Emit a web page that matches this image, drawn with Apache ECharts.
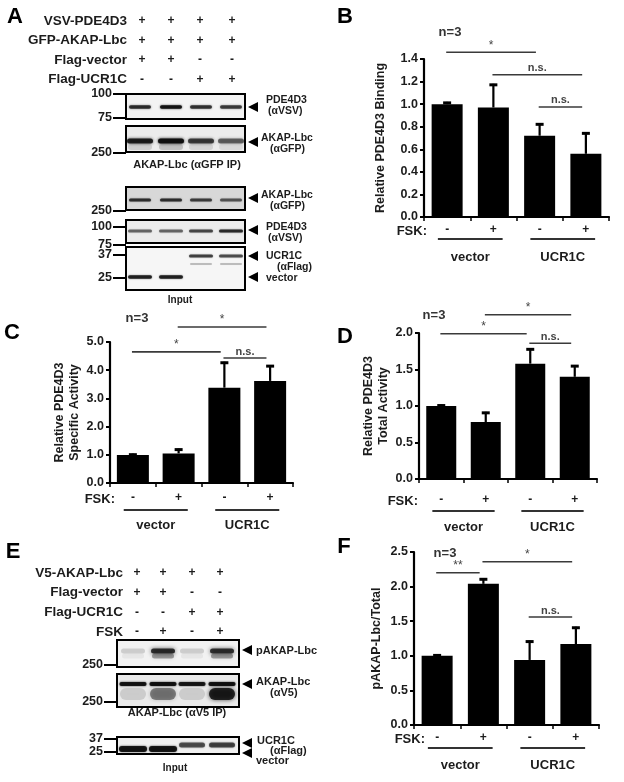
<!DOCTYPE html>
<html>
<head>
<meta charset="utf-8">
<script src="https://cdn.jsdelivr.net/npm/echarts@6/dist/echarts.min.js"></script>
<style>
  html, body { margin: 0; padding: 0; background: #fff; }
  #chart { width: 624px; height: 782px; }
</style>
</head>
<body>
<div id="chart"></div>
<script>
// ---- data ----
const fskLabels = ['-', '+', '-', '+'];
const groupLabels = ['vector', 'UCR1C'];

// B: relative PDE4D3 binding
const bindingMean = [1.00, 0.97, 0.72, 0.56];
const bindingErr = [0.02, 0.21, 0.11, 0.19];
// C: relative PDE4D3 specific activity
const specificMean = [0.99, 1.05, 3.38, 3.62];
const specificErr = [0.05, 0.17, 0.92, 0.56];
// D: relative PDE4D3 total activity
const totalMean = [1.00, 0.78, 1.58, 1.40];
const totalErr = [0.02, 0.14, 0.21, 0.16];
// F: pAKAP-Lbc / total
const phosphoMean = [1.00, 2.04, 0.94, 1.17];
const phosphoErr = [0.02, 0.08, 0.28, 0.25];

// significance brackets: [from category, to category, level, label]
const bindingSig = [[0, 2, 1.46, '*'], [1, 3, 1.26, 'n.s.'], [2, 3, 0.975, 'n.s.']];
const specificSig = [[1, 3, 5.53, '*'], [0, 2, 4.65, '*'], [2, 3, 4.43, 'n.s.']];
const totalSig = [[1, 3, 2.25, '*'], [0, 2, 1.99, '*'], [2, 3, 1.86, 'n.s.']];
const phosphoSig = [[0, 1, 2.20, '**'], [1, 3, 2.36, '*'], [2, 3, 1.56, 'n.s.']];

// ---- layout ----
const font = '"Liberation Sans", Arial, sans-serif';
const ink = '#1c1c1c';

const panels = [
  { left: 424, top: 59, width: 185, height: 158, max: 1.4, interval: 0.2, name: 'Relative PDE4D3 Binding', nameGap: 36,
    mean: bindingMean, err: bindingErr, sig: bindingSig, fskMargin: 7, lineGap: 22, groupMargin: 34, fskX: 427, n: [450, 32], barWidth: 31 },
  { left: 110, top: 342, width: 183, height: 141, max: 5, interval: 1, name: 'Relative PDE4D3\nSpecific Activity', nameGap: 28,
    mean: specificMean, err: specificErr, sig: specificSig, fskMargin: 9, lineGap: 27, groupMargin: 36, fskX: 115, n: [137, 318], barWidth: 32 },
  { left: 419, top: 333, width: 178, height: 146, max: 2, interval: 0.5, name: 'Relative PDE4D3\nTotal Activity', nameGap: 28,
    mean: totalMean, err: totalErr, sig: totalSig, fskMargin: 15, lineGap: 32, groupMargin: 42, fskX: 418, n: [434, 315], barWidth: 30 },
  { left: 414, top: 552, width: 185, height: 173, max: 2.5, interval: 0.5, name: 'pAKAP-Lbc/Total', nameGap: 30,
    mean: phosphoMean, err: phosphoErr, sig: phosphoSig, fskMargin: 7, lineGap: 23, groupMargin: 34, fskX: 425, n: [445, 553], barWidth: 31 }
];

function renderErr(params, api) {
  const x = api.value(0), m = api.value(1), e = api.value(2);
  const base = api.coord([x, m]);
  const top = api.coord([x, m + e]);
  return {
    type: 'group',
    children: [
      { type: 'line', shape: { x1: base[0], y1: base[1], x2: top[0], y2: top[1] }, style: { stroke: '#000', lineWidth: 2.2 } },
      { type: 'line', shape: { x1: top[0] - 4, y1: top[1] + 1, x2: top[0] + 4, y2: top[1] + 1 }, style: { stroke: '#000', lineWidth: 3 } }
    ]
  };
}

const chart = echarts.init(document.getElementById('chart'));
const option = { animation: false, textStyle: { fontFamily: font }, grid: [], xAxis: [], yAxis: [], series: [] };

panels.forEach((p, i) => {
  option.grid.push({ left: p.left, top: p.top, width: p.width, height: p.height });
  option.xAxis.push({
    type: 'category', gridIndex: i, data: fskLabels,
    axisLine: { lineStyle: { color: '#000', width: 2.2 } },
    axisTick: { show: true, length: 4, lineStyle: { color: '#000', width: 1.5 } },
    axisLabel: { margin: p.fskMargin, fontSize: 12, fontWeight: 'bold', color: ink, fontFamily: font }
  });
  option.xAxis.push({
    type: 'category', gridIndex: i, position: 'bottom', data: groupLabels,
    axisLine: { show: false }, axisTick: { show: false },
    axisLabel: { margin: p.groupMargin, fontSize: 13, fontWeight: 'bold', color: ink, fontFamily: font }
  });
  option.yAxis.push({
    type: 'value', gridIndex: i, min: 0, max: p.max, interval: p.interval,
    name: p.name, nameLocation: 'middle', nameGap: p.nameGap,
    nameTextStyle: { fontSize: 12.5, fontWeight: 'bold', color: ink, fontFamily: font, lineHeight: 15 },
    axisLine: { show: true, lineStyle: { color: '#000', width: 2.2 } },
    axisTick: { show: true, length: 4, lineStyle: { color: '#000', width: 2 } },
    splitLine: { show: false },
    axisLabel: { formatter: v => v.toFixed(1), margin: 6, fontSize: 12.5, fontWeight: 'bold', color: ink, fontFamily: font }
  });
  option.series.push({
    type: 'bar', xAxisIndex: 2 * i, yAxisIndex: i, data: p.mean, barWidth: p.barWidth,
    itemStyle: { color: '#000' }, z: 2
  });
  option.series.push({
    type: 'custom', xAxisIndex: 2 * i, yAxisIndex: i,
    data: p.mean.map((m, k) => [k, m, p.err[k]]),
    encode: { x: 0, y: 1 }, renderItem: renderErr, z: 3
  });
});

chart.setOption(option);

// ---- annotations & blots (graphic layer) ----
const g = [];
function txt(x, y, s, size, opt) {
  g.push({ type: 'text', x: x, y: y, z: 20,
    style: Object.assign({ text: s, fill: ink, font: 'bold ' + size + 'px ' + font, align: 'left', verticalAlign: 'middle' }, opt || {}) });
}
function seg(x1, y1, x2, y2, w, c) {
  g.push({ type: 'line', z: 20, shape: { x1: x1, y1: y1, x2: x2, y2: y2 }, style: { stroke: c || '#000', lineWidth: w } });
}

panels.forEach((p, i) => {
  const at = (cat, val) => {
    const a = chart.convertToPixel({ seriesIndex: 2 * i }, [0, val]);
    const b = chart.convertToPixel({ seriesIndex: 2 * i }, [1, val]);
    return [a[0] + cat * (b[0] - a[0]), a[1]];
  };
  p.sig.forEach(([from, to, level, label]) => {
    const s = at(from - 0.02, level), e = at(to - 0.08, level);
    seg(s[0], s[1], e[0], e[1], 1.6, '#3a3a3a');
    txt((s[0] + e[0]) / 2, s[1] - 1, label, label === 'n.s.' ? 11 : 12,
      { align: 'center', verticalAlign: 'bottom', fill: '#444', font: (label === 'n.s.' ? 'bold 11px ' : '12px ') + font });
  });
  const bottom = p.top + p.height;
  [0.5, 2.5].forEach(c => {
    const s = at(c - 0.7, 0), e = at(c + 0.7, 0);
    seg(s[0], bottom + p.lineGap, e[0], bottom + p.lineGap, 1.8, '#333');
  });
  txt(p.fskX, bottom + p.fskMargin + 7, 'FSK:', 13, { align: 'right' });
  txt(p.n[0], p.n[1], 'n=3', 13, { align: 'center', fill: '#333' });
});

// panel letters
[['A', 15, 17], ['B', 345, 17], ['C', 12, 333], ['D', 345, 337], ['E', 13, 552], ['F', 344, 547]]
  .forEach(([s, x, y]) => txt(x, y, s, 22, { align: 'center', fill: '#000' }));

// blot helpers
function box(x, y, w, h, bg, bands) {
  g.push({ type: 'rect', z: 10, shape: { x: x, y: y, width: w, height: h }, style: { fill: bg } });
  bands.forEach(([cx, cy, bw, bh, a, blur]) => {
    const c = 'rgba(12,12,12,' + a + ')';
    g.push({ type: 'rect', z: 11, shape: { x: cx - bw / 2, y: cy - bh / 2, width: bw, height: bh, r: bh / 2 },
      style: { fill: c, shadowBlur: blur || 2, shadowColor: c } });
  });
  g.push({ type: 'rect', z: 12, shape: { x: x, y: y, width: w, height: h }, style: { fill: 'none', stroke: '#000', lineWidth: 2 } });
}
function mw(x, y, s) {
  seg(x - 13, y, x, y, 2);
  txt(x - 14, y, s, 12.5, { align: 'right' });
}
function arrow(x, y) {
  g.push({ type: 'polygon', z: 12, shape: { points: [[x, y], [x + 10, y - 5], [x + 10, y + 5]] }, style: { fill: '#000' } });
}
function lanes(xs, cy, w, h, alphas, blur) {
  return xs.map((x, k) => [x, cy, w, h, alphas[k], blur]).filter(b => b[4] > 0);
}

// ---- panel A ----
const laneA = [140, 171, 201, 231];
const rowsA = [['VSV-PDE4D3', '++++'], ['GFP-AKAP-Lbc', '++++'], ['Flag-vector', '++--'], ['Flag-UCR1C', '--++']];
rowsA.forEach(([label, signs], r) => {
  const y = 21 + r * 19.5;
  txt(127, y, label, 13.5, { align: 'right' });
  signs.split('').forEach((s, k) => txt([142, 171, 200, 232][k], y, s, 12, { align: 'center' }));
});
box(126, 94, 119, 25, '#f3f3f3', lanes(laneA, 107, 22, 3.5, [0.75, 0.9, 0.72, 0.68], 2));
box(126, 126, 119, 26, '#ececec', lanes(laneA, 141, 26, 5, [0.85, 0.95, 0.7, 0.55], 3)
  .concat(lanes(laneA, 147, 24, 6, [0.12, 0.18, 0.1, 0.08], 4)));
box(126, 187, 119, 23, '#d8d8d8', lanes(laneA, 200, 22, 3, [0.72, 0.72, 0.65, 0.55], 1.5));
box(126, 220, 119, 23, '#ececec', lanes(laneA, 231, 24, 3, [0.5, 0.5, 0.62, 0.75], 1.5));
box(126, 247, 119, 43, '#f6f6f6', lanes(laneA, 256, 24, 3, [0, 0, 0.65, 0.6], 1.5)
  .concat(lanes(laneA, 264, 22, 2, [0, 0, 0.22, 0.22], 1.5))
  .concat(lanes(laneA, 277, 24, 3.5, [0.8, 0.8, 0, 0], 1.5)));
[[94, '100'], [118, '75'], [153, '250'], [211, '250'], [227, '100'], [245, '75'], [255, '37'], [278, '25']]
  .forEach(([y, s]) => mw(126, y, s));
[107, 142, 198, 230, 256, 277].forEach(y => arrow(248, y));
txt(266, 100, 'PDE4D3', 10.5); txt(268, 111, '(\u03b1VSV)', 10.5);
txt(261, 138, 'AKAP-Lbc', 10.5); txt(270, 149, '(\u03b1GFP)', 10.5);
txt(261, 195, 'AKAP-Lbc', 10.5); txt(270, 206, '(\u03b1GFP)', 10.5);
txt(266, 227, 'PDE4D3', 10.5); txt(268, 238, '(\u03b1VSV)', 10.5);
txt(266, 256, 'UCR1C', 10.5); txt(277, 267, '(\u03b1Flag)', 10.5);
txt(266, 278, 'vector', 10.5);
txt(187, 165, 'AKAP-Lbc (\u03b1GFP IP)', 11, { align: 'center' });
txt(180, 300, 'Input', 10, { align: 'center' });

// ---- panel E ----
const laneE = [133, 163, 192, 222];
const rowsE = [['V5-AKAP-Lbc', '++++'], ['Flag-vector', '++--'], ['Flag-UCR1C', '--++'], ['FSK', '-+-+']];
rowsE.forEach(([label, signs], r) => {
  const y = 573 + r * 19.7;
  txt(123, y, label, 13.5, { align: 'right' });
  signs.split('').forEach((s, k) => txt([137, 163, 192, 220][k], y, s, 12, { align: 'center' }));
});
box(117, 640, 122, 27, '#f2f2f2', lanes(laneE, 651, 24, 5, [0.15, 0.8, 0.15, 0.78], 4)
  .concat(lanes(laneE, 656, 22, 5, [0.05, 0.35, 0.05, 0.35], 4)));
box(117, 674, 122, 33, '#eaeaea', lanes(laneE, 684, 27, 4, [0.9, 0.92, 0.88, 0.92], 2)
  .concat(lanes(laneE, 694, 26, 12, [0.12, 0.45, 0.12, 0.85], 4)));
box(117, 737, 122, 17, '#f0f0f0', lanes(laneE, 749, 28, 6, [0.9, 0.9, 0, 0], 2)
  .concat(lanes(laneE, 745, 26, 5, [0, 0, 0.6, 0.65], 2)));
[[665, '250'], [702, '250'], [739, '37'], [752, '25']].forEach(([y, s]) => mw(117, y, s));
[650, 684, 743, 753].forEach(y => arrow(242, y));
txt(256, 651, 'pAKAP-Lbc', 11);
txt(256, 682, 'AKAP-Lbc', 11); txt(270, 693, '(\u03b1V5)', 11);
txt(257, 741, 'UCR1C', 11); txt(270, 751, '(\u03b1Flag)', 11);
txt(256, 761, 'vector', 11);
txt(177, 713, 'AKAP-Lbc (\u03b1V5 IP)', 11, { align: 'center' });
txt(175, 768, 'Input', 10, { align: 'center' });

chart.setOption({ graphic: g });
</script>
</body>
</html>
